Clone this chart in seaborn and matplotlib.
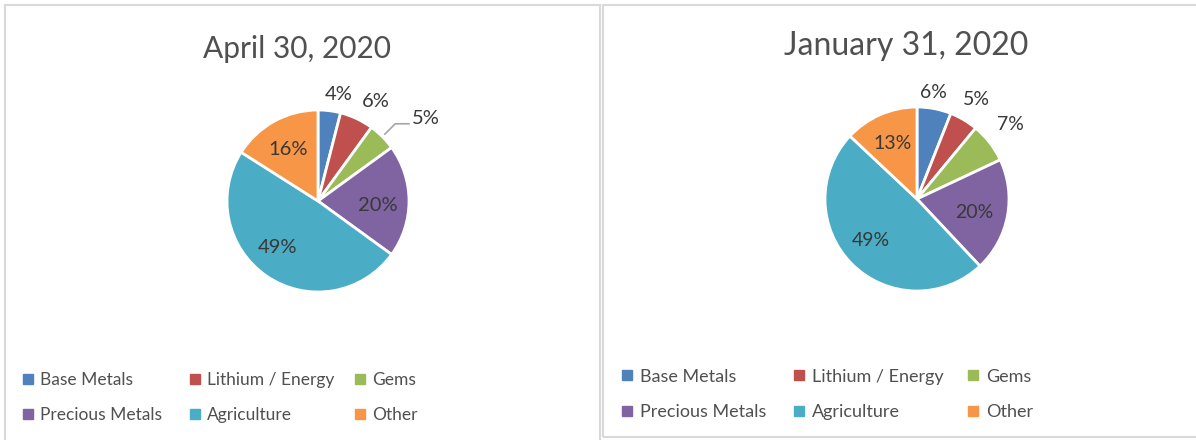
import numpy as np
import matplotlib
matplotlib.use("Agg")
import matplotlib.pyplot as plt
import seaborn as sns
from matplotlib.patches import Rectangle
from matplotlib.lines import Line2D

# ---------------- data ----------------
categories = ["Base Metals", "Lithium / Energy", "Gems",
              "Precious Metals", "Agriculture", "Other"]
april_values = [4, 6, 5, 20, 49, 16]
january_values = [6, 5, 7, 20, 49, 13]
titles = ["April 30, 2020", "January 31, 2020"]
colors = ["#4F81BD", "#C0504D", "#9BBB59", "#8064A2", "#4BACC6", "#F79646"]

# ---------------- style ----------------
sns.set_theme(style="white")
plt.rcParams["font.family"] = ["Lato", "DejaVu Sans"]
palette = sns.color_palette(colors)

W, H = 1196, 440
fig = plt.figure(figsize=(W / 100, H / 100), dpi=100)
fig.patch.set_facecolor("white")

TITLE_C = "#505050"
LABEL_C = "#383838"
LEGEND_C = "#505050"
BORDER_C = "#d9d9d9"

# panel borders (pixel coords)
def add_border(x0, y0, x1, y1):
    fig.patches.append(Rectangle((x0 / W, 1 - y1 / H), (x1 - x0) / W, (y1 - y0) / H,
                                 transform=fig.transFigure, fill=False,
                                 edgecolor=BORDER_C, linewidth=1.5, zorder=0))

add_border(5, 5, 600, 445)
add_border(603, 5, 1200, 437)

panels = [
    dict(values=april_values, title=titles[0], cx=318, cy=201, R=91,
         title_x=297, title_y=58, title_size=21.5, label_size=14.5,
         # (radius factor, angle offset deg, outside?)
         label_pos=[(1.19, -4, True), (1.27, -5, True), (None, 0, True),
                    (0.66, -4, False), (0.68, -7, False), (0.65, 1, False)],
         leader=2,
         legend_x=[28, 195, 360], legend_y=[380, 415], legend_size=12.5),
    dict(values=january_values, title=titles[1], cx=917, cy=199, R=92,
         title_x=906, title_y=55, title_size=23, label_size=14,
         label_pos=[(1.17, 2, True), (1.26, 0, True), (1.30, 1, True),
                    (0.64, -2, False), (0.67, -3, False), (0.66, 0, False)],
         leader=None,
         legend_x=[627, 799, 973], legend_y=[377, 412], legend_size=13),
]

L = 1.7  # half-extent of pie axes in radius units

for p in panels:
    R = p["R"]
    half = L * R
    ax = fig.add_axes([(p["cx"] - half) / W, 1 - (p["cy"] + half) / H,
                       2 * half / W, 2 * half / H])
    wedges, _ = ax.pie(p["values"], colors=palette, startangle=90,
                       counterclock=False,
                       wedgeprops=dict(edgecolor="white", linewidth=2))
    ax.set_xlim(-L, L)
    ax.set_ylim(-L, L)
    ax.set_aspect("equal")
    ax.axis("off")

    for i, (w, v) in enumerate(zip(wedges, p["values"])):
        mid = np.deg2rad((w.theta1 + w.theta2) / 2)
        r, dth, outside = p["label_pos"][i]
        txt = f"{v}%"
        if p["leader"] == i:
            sx, sy = 1.03 * np.cos(mid), 1.03 * np.sin(mid)
            ex, ey = 1.2 * np.cos(mid), 1.2 * np.sin(mid)
            fx, fy = ex + 0.16, ey
            ax.plot([sx, ex, fx], [sy, ey, fy], color="#a6a6a6", lw=1.2,
                    clip_on=False, solid_capstyle="butt")
            ax.text(fx + 0.02, fy + 0.06, txt, ha="left", va="center",
                    fontsize=p["label_size"], color=LABEL_C, clip_on=False)
            continue
        a = mid + np.deg2rad(dth)
        ax.text(r * np.cos(a), r * np.sin(a), txt, ha="center", va="center",
                fontsize=p["label_size"], color=LABEL_C, clip_on=False)

    fig.text(p["title_x"] / W, 1 - p["title_y"] / H, p["title"],
             ha="center", va="baseline", fontsize=p["title_size"], color=TITLE_C)

    # legend: three columns, two rows (row-wise order)
    fs_px = p["legend_size"] * 100 / 72
    hl = 0.4
    for c in range(3):
        idx = [c, c + 3]
        handles = [Line2D([], [], marker="s", linestyle="", markersize=6.5,
                          color=palette[k]) for k in idx]
        labels = [categories[k] for k in idx]
        xh = (p["legend_x"][c] - hl * fs_px / 2) / W
        ymid = 1 - (sum(p["legend_y"]) / 2) / H
        leg = fig.legend(handles, labels, loc="center left",
                         bbox_to_anchor=(xh, ymid), frameon=False,
                         borderpad=0, borderaxespad=0, handlelength=hl,
                         handletextpad=0.5, labelspacing=1.08,
                         fontsize=p["legend_size"], labelcolor=LEGEND_C)

fig.savefig("out.png", dpi=100, facecolor="white")
